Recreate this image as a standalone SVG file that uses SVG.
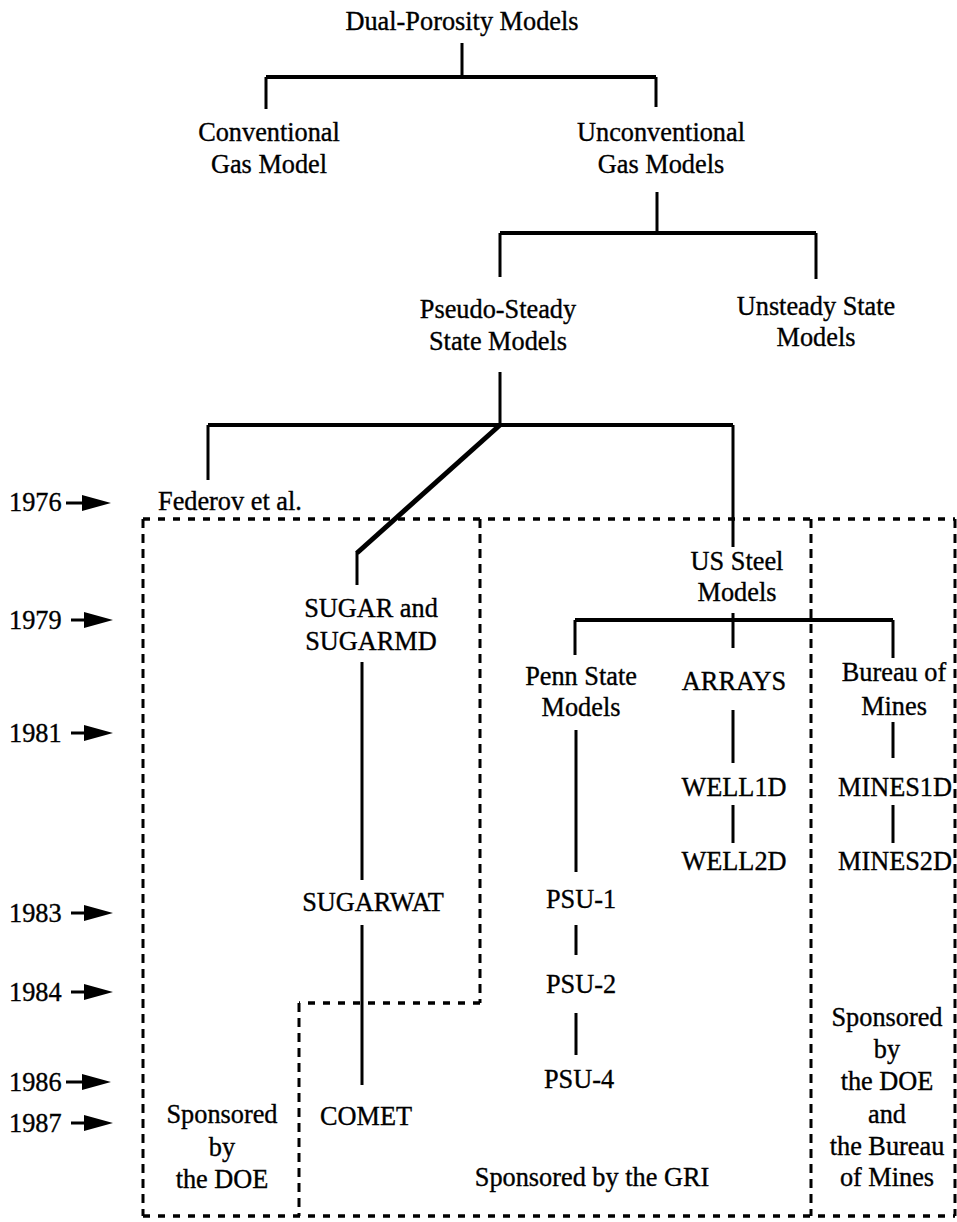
<svg xmlns="http://www.w3.org/2000/svg" width="957" height="1222" viewBox="0 0 957 1222">
<style>
text{font-family:"Liberation Serif","Times New Roman",serif;font-size:26.3px;fill:#000;stroke:#000;stroke-width:0.35}
.c{text-anchor:middle}
.ln{fill:none;stroke:#000;stroke-width:3}
.hz{fill:none;stroke:#000;stroke-width:4}
.dg{fill:none;stroke:#000;stroke-width:5}
.dh{fill:none;stroke:#000;stroke-width:3.5;stroke-dasharray:7 8}
.dv{fill:none;stroke:#000;stroke-width:3;stroke-dasharray:9 6}
.ah{fill:#000;stroke:none}
.sh{fill:none;stroke:#000;stroke-width:3}
</style>
<rect width="957" height="1222" fill="#fff"/>
<g id="connectors">
<path class="ln" d="M462,43 V77 M266,109 V77 M656,77 V107"/>
<path class="hz" d="M266,77 H656"/>
<path class="ln" d="M657,192 V233 M500,277 V233 M816,233 V279"/>
<path class="hz" d="M500,233 H816"/>
<path class="ln" d="M500,372 V425 M208,480 V425 M733,425 V547"/>
<path class="hz" d="M208,425 H733"/>
<path class="dg" d="M500,425 L357,553"/>
<path class="ln" d="M357,551 V585"/>
<path class="ln" d="M733,613 V648 M575,655 V620 M893,620 V658"/>
<path class="hz" d="M575,620 H893"/>
<path class="ln" d="M362,662 V880 M362,925 V1085"/>
<path class="ln" d="M576,730 V872 M576,925 V955 M576,1013 V1055"/>
<path class="ln" d="M733,710 V763 M733,805 V843"/>
<path class="ln" d="M893,722 V758 M893,805 V843"/>
</g>
<g id="regions">
<path class="dh" d="M143,519 H955 M143,1216 H955 M480,1003 H299"/>
<path class="dv" d="M143,519 V1216 M955,519 V1216 M480,519 V1003 M299,1003 V1216 M811,519 V1216"/>
</g>
<g id="timeline">
<text x="9" y="511">1976</text>
<text x="9" y="629">1979</text>
<text x="9" y="742">1981</text>
<text x="9" y="922">1983</text>
<text x="9" y="1001">1984</text>
<text x="9" y="1091">1986</text>
<text x="9" y="1132">1987</text>
<path class="sh" d="M66,503 H86 M71,620 H88 M71,733 H88 M71,913 H88 M71,992 H88 M66,1082 H86 M71,1123 H88"/>
<path class="ah" d="M82,495 L111,503 L82,511 Z"/>
<path class="ah" d="M84,612 L113,620 L84,628 Z"/>
<path class="ah" d="M84,725 L113,733 L84,741 Z"/>
<path class="ah" d="M84,905 L113,913 L84,921 Z"/>
<path class="ah" d="M84,984 L113,992 L84,1000 Z"/>
<path class="ah" d="M82,1074 L111,1082 L82,1090 Z"/>
<path class="ah" d="M84,1115 L113,1123 L84,1131 Z"/>
</g>
<g id="n-dual"><text class="c" x="462" y="30">Dual-Porosity Models</text></g>
<g id="n-conv"><text class="c" x="269" y="141">Conventional</text><text class="c" x="269" y="173">Gas Model</text></g>
<g id="n-unconv"><text class="c" x="661" y="141">Unconventional</text><text class="c" x="661" y="173">Gas Models</text></g>
<g id="n-pseudo"><text class="c" x="498" y="318">Pseudo-Steady</text><text class="c" x="498" y="350">State Models</text></g>
<g id="n-unsteady"><text class="c" x="816" y="315">Unsteady State</text><text class="c" x="816" y="346">Models</text></g>
<g id="n-federov"><text x="158" y="510">Federov et al.</text></g>
<g id="n-ussteel"><text class="c" x="737" y="570">US Steel</text><text class="c" x="737" y="601">Models</text></g>
<g id="n-sugar"><text class="c" x="371" y="617">SUGAR and</text><text class="c" x="371" y="650">SUGARMD</text></g>
<g id="n-penn"><text class="c" x="581" y="685">Penn State</text><text class="c" x="581" y="716">Models</text></g>
<g id="n-arrays"><text class="c" x="734" y="690">ARRAYS</text></g>
<g id="n-bureau"><text class="c" x="894" y="681">Bureau of</text><text class="c" x="894" y="715">Mines</text></g>
<g id="n-well1d"><text class="c" x="734" y="796">WELL1D</text></g>
<g id="n-mines1d"><text class="c" x="895" y="796">MINES1D</text></g>
<g id="n-well2d"><text class="c" x="734" y="870">WELL2D</text></g>
<g id="n-mines2d"><text class="c" x="895" y="870">MINES2D</text></g>
<g id="n-sugarwat"><text class="c" x="373" y="911">SUGARWAT</text></g>
<g id="n-psu1"><text class="c" x="581" y="908">PSU-1</text></g>
<g id="n-psu2"><text class="c" x="581" y="993">PSU-2</text></g>
<g id="n-psu4"><text class="c" x="579" y="1088">PSU-4</text></g>
<g id="n-comet"><text class="c" x="366" y="1125">COMET</text></g>
<g id="n-doe"><text class="c" x="222" y="1123">Sponsored</text><text class="c" x="222" y="1156">by</text><text class="c" x="222" y="1188">the DOE</text></g>
<g id="n-gri"><text class="c" x="592" y="1186">Sponsored by the GRI</text></g>
<g id="n-doebm"><text class="c" x="887" y="1026">Sponsored</text><text class="c" x="887" y="1058">by</text><text class="c" x="887" y="1090">the DOE</text><text class="c" x="887" y="1123">and</text><text class="c" x="887" y="1155">the Bureau</text><text class="c" x="887" y="1186">of Mines</text></g>
</svg>
